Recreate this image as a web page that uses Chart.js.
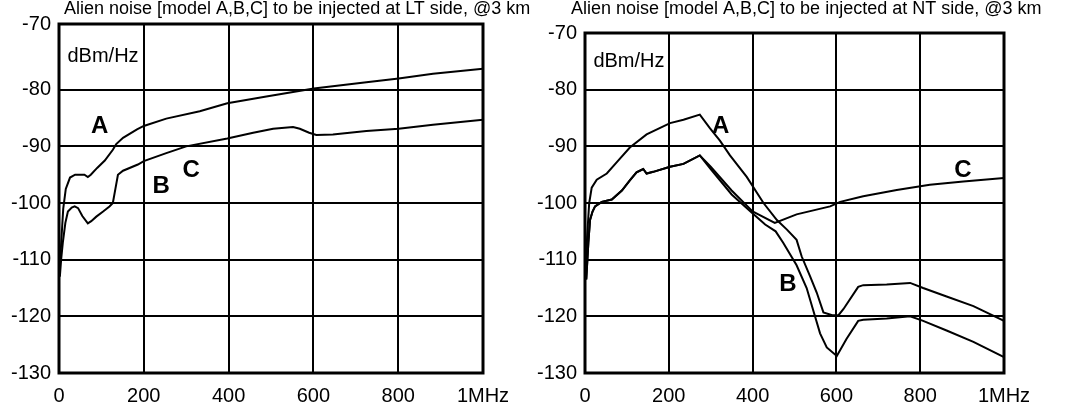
<!DOCTYPE html>
<html>
<head>
<meta charset="utf-8">
<script src="https://cdn.jsdelivr.net/npm/chart.js@4.4.0/dist/chart.umd.min.js"></script>
<style>
  body { margin: 0; background: #fff; }
  #wrap { position: relative; width: 1065px; height: 412px; }
  canvas { position: absolute; top: 0; }
</style>
</head>
<body>
<div id="wrap">
  <canvas id="ltChart" width="532" height="412" style="left:0"></canvas>
  <canvas id="ntChart" width="533" height="412" style="left:532px"></canvas>
</div>
<script>
// axis ticks (kHz, dBm/Hz)
const xTicks = [0, 200, 400, 600, 800, 1000];
const xTickLabels = ['0', '200', '400', '600', '800', '1MHz'];
const yTicks = [-130, -120, -110, -100, -90, -80, -70];
const yTickLabels = ['-130', '-120', '-110', '-100', '-90', '-80', '-70'];

// LT side, model A
const ltFreqA = [2, 6, 10, 16, 26, 38, 60, 68, 75, 90, 108, 127, 135, 151, 184, 200, 253, 332, 397, 489, 601, 725, 801, 882, 1000];
const ltA = [-111, -106, -101, -97.5, -95.5, -95.0, -95.0, -95.4, -95.0, -93.8, -92.5, -90.6, -89.6, -88.5, -87.0, -86.4, -85.1, -83.8, -82.4, -81.2, -79.8, -78.7, -78.0, -77.2, -76.3];
// LT side, models B and C (same curve)
const ltFreqBC = [2, 5, 9, 15, 21, 30, 37, 45, 55, 68, 76, 88, 104, 119, 127, 133, 139, 151, 186, 200, 253, 300, 397, 458, 505, 552, 568, 590, 607, 646, 725, 801, 882, 1000];
const ltBC = [-113, -110, -107, -103.5, -101.5, -100.8, -100.6, -100.9, -102.3, -103.6, -103.2, -102.4, -101.5, -100.6, -100.0, -97.5, -95.0, -94.3, -93.2, -92.6, -91.2, -90.0, -88.6, -87.6, -86.9, -86.6, -86.9, -87.6, -88.0, -87.9, -87.3, -86.9, -86.2, -85.3];

// NT side, model A
const ntFreqA = [2, 5, 10, 16, 28, 52, 76, 107, 147, 203, 235, 274, 298, 322, 346, 386, 426, 458, 482, 505, 517, 537, 553, 569, 590, 605, 617, 652, 664, 720, 776, 807, 863, 927, 1000];
const ntA = [-113, -106, -100, -97.3, -95.9, -94.8, -92.8, -90.2, -87.9, -85.9, -85.3, -84.4, -86.8, -89.0, -91.6, -95.4, -100, -103, -104.7, -106.5, -109.4, -112.9, -115.8, -119.3, -119.8, -119.8, -118.7, -114.8, -114.5, -114.4, -114.1, -115, -116.5, -118.2, -120.8];
// NT side, model B
const ntFreqB = [3, 8, 12, 18, 24, 40, 64, 88, 107, 123, 139, 147, 163, 203, 235, 274, 300, 350, 395, 430, 455, 473, 505, 529, 545, 561, 577, 601, 624, 652, 664, 720, 776, 807, 863, 927, 1000];
const ntB = [-113.5, -107, -103, -101.5, -100.6, -99.8, -99.4, -97.8, -96.0, -94.6, -94.0, -94.8, -94.5, -93.6, -93.1, -91.6, -94.0, -98.5, -101.5, -103.8, -105.0, -107, -111, -115, -119, -123, -125.5, -127, -124, -120.8, -120.6, -120.4, -120, -120.8, -122.5, -124.5, -127.2];
// NT side, model C
const ntFreqC = [3, 8, 12, 18, 24, 40, 64, 88, 107, 123, 139, 147, 163, 203, 235, 274, 300, 350, 400, 453, 505, 585, 609, 664, 744, 823, 903, 1000];
const ntC = [-113.5, -107, -103, -101.5, -100.6, -99.8, -99.4, -97.8, -96.0, -94.6, -94.0, -94.8, -94.5, -93.6, -93.1, -91.6, -93.6, -97.8, -101.5, -103.5, -102, -100.6, -99.8, -98.8, -97.7, -96.8, -96.2, -95.6];

const FONT = '"Liberation Sans", Arial, sans-serif';

function toPoints(freqs, values) {
    return freqs.map((f, i) => ({ x: f, y: values[i] }));
}

// titles, unit label and A/B/C markers, plus the heavy frame
const panelText = {
    id: 'panelText',
    beforeDatasetsDraw(chart) {
        const a = chart.chartArea;
        const ctx = chart.ctx;
        ctx.save();
        ctx.strokeStyle = '#000';
        ctx.lineWidth = 3;
        ctx.strokeRect(a.left, a.top, a.right - a.left, a.bottom - a.top);
        ctx.restore();
    },
    afterDraw(chart, args, opts) {
        const ctx = chart.ctx;
        const xs = chart.scales.x, ys = chart.scales.y;
        const a = chart.chartArea;
        ctx.save();
        ctx.fillStyle = '#000';
        ctx.textBaseline = 'middle';
        ctx.textAlign = 'left';
        ctx.font = '18px ' + FONT;
        ctx.fillText(opts.title, opts.titleX, 9);
        ctx.font = '20px ' + FONT;
        ctx.fillText('dBm/Hz', xs.getPixelForValue(20), (a.top + ys.getPixelForValue(-80)) / 2);
        ctx.font = 'bold 24px ' + FONT;
        ctx.textAlign = 'center';
        opts.marks.forEach(m => {
            ctx.fillText(m.text, xs.getPixelForValue(m.f), ys.getPixelForValue(m.db));
        });
        ctx.restore();
    }
};

function makeChart(id, series, cfg) {
    // the top tick sits on the frame; its label always reads -70
    const yVals = yTicks.slice(0, -1).concat([cfg.yMax]);
    return new Chart(document.getElementById(id).getContext('2d'), {
        type: 'line',
        data: {
            datasets: series.map(s => ({
                label: s.label,
                data: s.data,
                borderColor: '#000',
                borderWidth: 2,
                pointRadius: 0,
                tension: 0,
                fill: false
            }))
        },
        options: {
            responsive: false,
            animation: false,
            layout: { padding: { top: cfg.padTop, right: cfg.padRight, left: 0, bottom: 0 } },
            scales: {
                x: {
                    type: 'linear',
                    min: 0,
                    max: 1000,
                    afterBuildTicks: scale => { scale.ticks = xTicks.map(v => ({ value: v })); },
                    afterFit: scale => { scale.height = 39; scale.paddingLeft = 0; scale.paddingRight = 0; },
                    grid: { color: '#000', lineWidth: 2, drawTicks: false },
                    border: { display: false },
                    ticks: {
                        color: '#000',
                        font: { family: FONT, size: 20 },
                        padding: 11,
                        maxRotation: 0,
                        callback: (v, i) => xTickLabels[i]
                    }
                },
                y: {
                    min: -130,
                    max: cfg.yMax,
                    afterBuildTicks: scale => { scale.ticks = yVals.map(v => ({ value: v })); },
                    afterFit: scale => { scale.width = cfg.axisWidth; scale.paddingTop = 0; scale.paddingBottom = 0; },
                    grid: { color: '#000', lineWidth: 2, drawTicks: false },
                    border: { display: false },
                    ticks: {
                        color: '#000',
                        font: { family: FONT, size: 20 },
                        padding: 8,
                        callback: (v, i) => yTickLabels[i]
                    }
                }
            },
            plugins: {
                legend: { display: false },
                tooltip: { enabled: false },
                panelText: { title: cfg.title, titleX: cfg.titleX, marks: cfg.marks }
            }
        },
        plugins: [panelText]
    });
}

let ltChart = makeChart('ltChart', [
    { label: 'A', data: toPoints(ltFreqA, ltA) },
    { label: 'B, C', data: toPoints(ltFreqBC, ltBC) }
], {
    axisWidth: 59,
    padRight: 49,
    padTop: 24,
    yMax: -68.4,
    title: 'Alien noise [model A,B,C] to be injected at LT side, @3 km',
    titleX: 64,
    marks: [
        { text: 'A', f: 96, db: -86.5 },
        { text: 'B', f: 241, db: -97.0 },
        { text: 'C', f: 312, db: -94.3 }
    ]
});

let ntChart = makeChart('ntChart', [
    { label: 'A', data: toPoints(ntFreqA, ntA) },
    { label: 'B', data: toPoints(ntFreqB, ntB) },
    { label: 'C', data: toPoints(ntFreqC, ntC) }
], {
    axisWidth: 53,
    padRight: 61,
    padTop: 33,
    yMax: -70,
    title: 'Alien noise [model A,B,C] to be injected at NT side, @3 km',
    titleX: 39,
    marks: [
        { text: 'A', f: 324, db: -86.5 },
        { text: 'B', f: 484, db: -114.4 },
        { text: 'C', f: 902, db: -94.3 }
    ]
});
</script>
</body>
</html>
